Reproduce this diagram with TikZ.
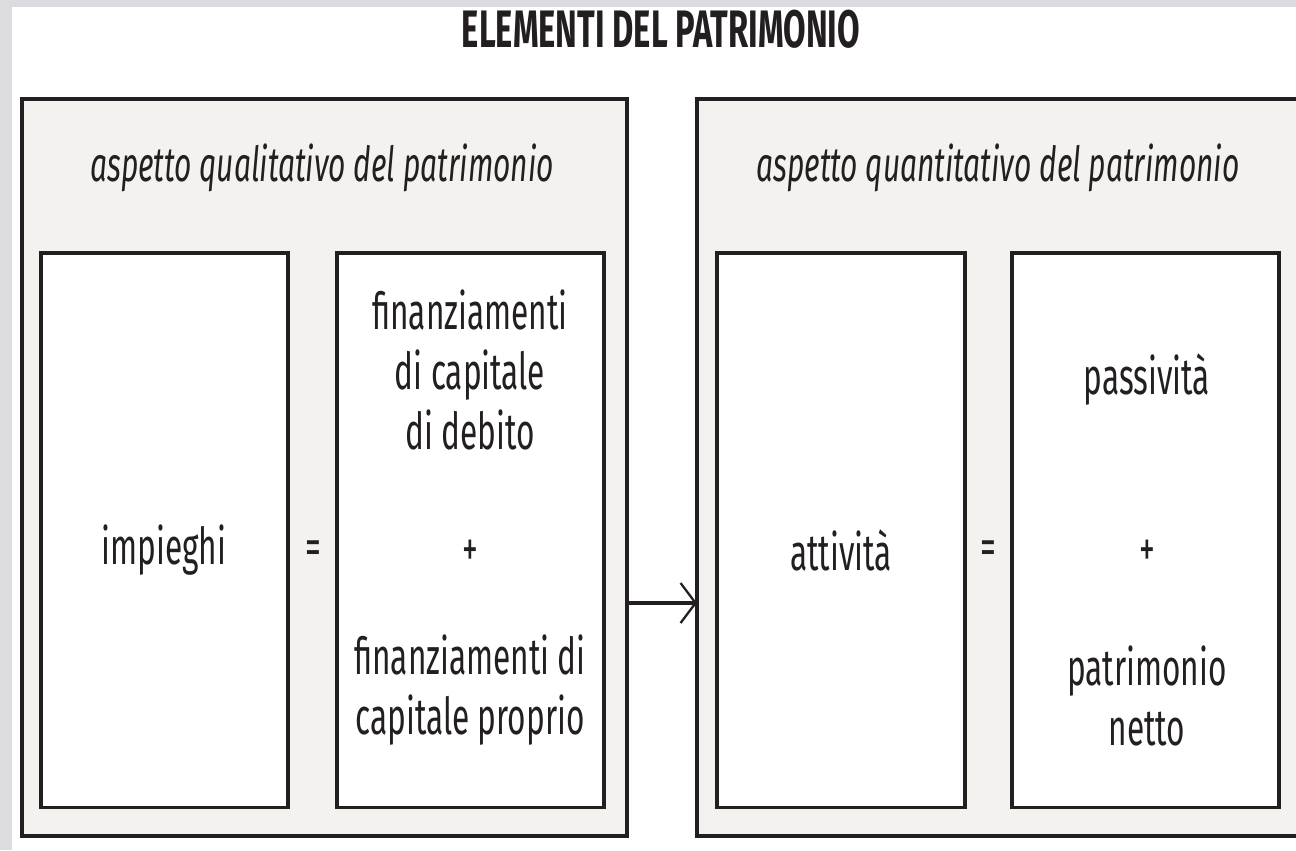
\documentclass[tikz,border=0pt]{standalone}
\usepackage{fontspec}
\newfontfamily\condfont[FakeStretch=0.62]{Fira Sans}
\usetikzlibrary{positioning,arrows.meta}
\definecolor{pageframe}{HTML}{DCDCE0}
\definecolor{panelfill}{HTML}{F3F2EE}
\definecolor{inkdark}{HTML}{231F20}

\begin{document}
\begin{tikzpicture}[x=0.02cm, y=-0.02cm,
    panel/.style={draw=inkdark, fill=panelfill, line width=2pt, rectangle, anchor=north west, inner sep=0pt, outer sep=0pt},
    cell/.style={draw=inkdark, fill=white, line width=1.8pt, rectangle, anchor=north west, inner sep=0pt, outer sep=0pt},
    celltext/.style={text=inkdark, align=center, font=\condfont\fontsize{29}{34}\selectfont},
    heading/.style={text=inkdark, font=\condfont\itshape\fontsize{27.5}{31}\selectfont}]
    \clip (0,0) rectangle (1296,850);
    \fill [pageframe] (0,0) rectangle (1296,850);
    \fill [white] (12,7) rectangle (1296,850);

    \node [text=inkdark, font=\condfont\bfseries\fontsize{30}{34}\selectfont] (title) at (661,29) {ELEMENTI DEL PATRIMONIO};

    % left panel: qualitative view
    \node [panel, minimum width=12.1cm, minimum height=14.74cm] (quali) at (22,99) {};
    \node [heading] (qualihead) at (322,168) {aspetto qualitativo del patrimonio};
    \node [cell, minimum width=4.94cm, minimum height=11.1cm] (impbox) at (41,253) {};
    \node [cell, minimum width=5.34cm, minimum height=11.1cm] (finbox) at (337,253) {};
    \node [celltext] (imp) at (164,550) {impieghi};
    \node [celltext] (eqleft) at (313,553) {=};
    \node [celltext] (debt) at (470,370) {finanziamenti\\di capitale\\di debito};
    \node [celltext] (plusleft) at (470,553) {+};
    \node [celltext] (own) at (470,690) {finanziamenti di\\capitale proprio};

    % right panel: quantitative view
    \node [panel, minimum width=12.1cm, minimum height=14.74cm] (quanti) at (697,99) {};
    \node [heading] (quantihead) at (998,168) {aspetto quantitativo del patrimonio};
    \node [cell, minimum width=4.96cm, minimum height=11.1cm] (attbox) at (717,253) {};
    \node [cell, minimum width=5.34cm, minimum height=11.1cm] (passbox) at (1012,253) {};
    \node [celltext] (att) at (841,550) {attività};
    \node [celltext] (eqright) at (988,553) {=};
    \node [celltext] (pass) at (1147,380) {passività};
    \node [celltext] (plusright) at (1147,553) {+};
    \node [celltext] (netto) at (1147,696) {patrimonio\\netto};

    \draw [-{Straight Barb[length=0.3cm, width=0.8cm, line width=1.3pt]}, draw=inkdark, line width=2pt] (quali.east |- 0,603) -- (quanti.west |- 0,603);
\end{tikzpicture}
\end{document}
